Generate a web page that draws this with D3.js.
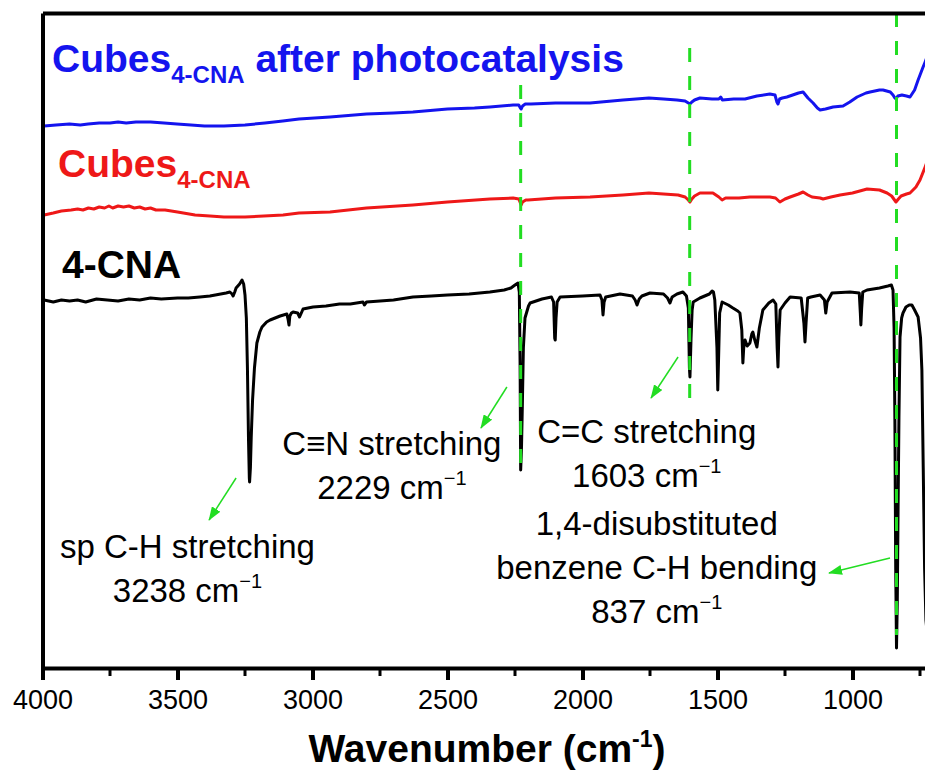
<!DOCTYPE html>
<html>
<head>
<meta charset="utf-8">
<script src="https://cdn.jsdelivr.net/npm/d3@7"></script>
<style>
body { margin: 0; background: #fff; }
text { font-family: "Liberation Sans", Arial, sans-serif; }
</style>
</head>
<body>
<div id="chart"></div>
<script>
(function() {

// FTIR spectra: [wavenumber (cm-1), offset transmittance (a.u.)]
var black = [[3994,368],[3960,366],[3930,368],[3900,367],[3870,368],[3840,366],[3800,369],[3760,368],[3720,367],[3680,369],[3640,368],[3600,370],[3560,369],[3500,370],[3460,370],[3417,371],[3380,372],[3340,374],[3320,375],[3306,376],[3298,374],[3294,372],[3288,376],[3283,380],[3270,384],[3261,388],[3255,384],[3250,373],[3245,350],[3241,300],[3237,228],[3234,190],[3233,186],[3230,200],[3227,230],[3222,268],[3215,300],[3206,325],[3195,336],[3187,341],[3170,346],[3157,348],[3120,352],[3095,354],[3090,348],[3087,343],[3084,352],[3078,355],[3072,356],[3055,355],[3048,351],[3043,354],[3035,359],[2998,361],[2950,362],[2900,364],[2860,364],[2813,366],[2808,363],[2800,366],[2700,368],[2628,371],[2560,372],[2500,373],[2420,374],[2343,376],[2290,378],[2265,380],[2250,383],[2239,385],[2234,376],[2231,300],[2229,198],[2226,220],[2223,260],[2219,320],[2213,350],[2200,362],[2194,365],[2150,369],[2115,371],[2107,366],[2103,330],[2101,328],[2098,350],[2094,366],[2083,371],[2000,372],[1935,373],[1928,368],[1924,353],[1920,366],[1914,371],[1861,374],[1815,372],[1805,368],[1798,363],[1790,369],[1780,372],[1750,375],[1700,374],[1685,370],[1676,365],[1668,371],[1650,374],[1628,376],[1615,372],[1608,360],[1604,300],[1602,291],[1598,330],[1594,358],[1590,366],[1565,370],[1530,374],[1520,377],[1515,376],[1510,368],[1502,320],[1499,278],[1496,310],[1492,355],[1483,366],[1460,363],[1443,360],[1425,357],[1417,355],[1410,338],[1406,305],[1403,320],[1398,328],[1390,322],[1380,325],[1373,334],[1369,336],[1362,328],[1354,321],[1345,340],[1332,358],[1310,365],[1294,368],[1284,364],[1279,320],[1276,301],[1273,330],[1268,358],[1250,365],[1231,371],[1190,370],[1180,345],[1176,326],[1172,345],[1166,370],[1154,371],[1120,373],[1104,368],[1099,355],[1094,366],[1076,375],[1009,376],[975,375],[971,355],[969,343],[966,360],[962,376],[946,378],[900,380],[869,382],[856,383],[850,378],[846,340],[843,248],[840,100],[837,20],[834,68],[831,165],[828,250],[824,331],[818,350],[813,355],[802,361],[790,363],[780,363],[770,358],[757,351],[748,330],[743,298],[738,200],[733,100],[728,48],[720,25],[700,60]];

var red = [[3994,453],[3960,455],[3930,457],[3894,458],[3870,459],[3850,458],[3830,460],[3810,459],[3790,461],[3770,460],[3754,462],[3740,460],[3720,462],[3700,461],[3680,462],[3660,460],[3640,461],[3620,459],[3600,460],[3580,458],[3546,458],[3500,456],[3435,453],[3380,452],[3328,451],[3250,451],[3180,452],[3109,453],[3050,455],[2935,456],[2800,460],[2628,463],[2500,466],[2343,469],[2257,470],[2236,469],[2230,465],[2227,463],[2222,466],[2210,468],[2202,468],[2100,470],[1972,471],[1850,473],[1754,475],[1700,474],[1646,473],[1620,471],[1608,468],[1602,466],[1595,469],[1585,472],[1565,475],[1517,475],[1495,471],[1483,468],[1470,470],[1420,470],[1380,471],[1306,471],[1285,470],[1269,466],[1250,469],[1231,471],[1200,474],[1183,476],[1165,473],[1150,471],[1120,470],[1109,469],[1080,471],[1046,473],[1000,475],[946,479],[900,478],[872,475],[855,472],[839,466],[830,469],[820,472],[800,474],[787,475],[765,481],[750,488],[731,501],[700,523]];

var blue = [[3994,542],[3950,543],[3900,544],[3860,543],[3831,544],[3790,545],[3750,545],[3720,546],[3690,545],[3654,546],[3600,546],[3550,545],[3502,544],[3450,543],[3400,542],[3328,542],[3250,543],[3176,545],[3110,547],[3050,549],[2935,551],[2800,554],[2700,555],[2628,556],[2500,559],[2400,560],[2343,561],[2257,563],[2236,563],[2230,560],[2227,559],[2222,562],[2212,564],[2191,564],[2100,565],[1972,565],[1850,568],[1754,570],[1700,569],[1650,568],[1620,567],[1608,565],[1602,564],[1595,566],[1585,568],[1565,570],[1520,569],[1495,569],[1488,571],[1482,568],[1440,569],[1398,569],[1354,572],[1306,574],[1287,573],[1280,566],[1276,564],[1270,569],[1260,570],[1243,571],[1200,575],[1183,576],[1165,570],[1146,565],[1130,560],[1120,558],[1100,559],[1072,561],[1035,562],[1010,566],[983,571],[950,575],[935,576],[900,578],[887,578],[860,576],[850,573],[843,570],[839,569],[832,572],[817,573],[800,572],[787,571],[770,578],[757,588],[740,600],[731,606],[700,628]];

// marked bands and the extent of their dashed guides (a.u.)
var guideWn = [2229, 1603, 837];
var guideTop = [583, 620, 655];
var guideBottom = [196, 268, 33];

// tick labels
var majorTicks = [4000, 3500, 3000, 2500, 2000, 1500, 1000];
var minorTicks = [3750, 3250, 2750, 2250, 1750, 1250, 750];

var width = 925, height = 781;
var margin = {top: 13, left: 42.5, bottom: 113};

var svg = d3.select("#chart").append("svg")
  .attr("width", width)
  .attr("height", height);

// x runs past the right edge of the picture, as in the original crop
var x = d3.scaleLinear().domain([4000, 400]).range([margin.left, margin.left + 3600 * 0.27]);
var y = d3.scaleLinear().domain([0, 655]).range([height - margin.bottom, margin.top]);

var defs = svg.append("defs");
defs.append("clipPath").attr("id", "plotclip")
  .append("rect")
  .attr("x", margin.left + 1).attr("y", margin.top)
  .attr("width", width).attr("height", y(0) - margin.top);

defs.append("marker")
  .attr("id", "arrow")
  .attr("markerUnits", "userSpaceOnUse")
  .attr("markerWidth", 14).attr("markerHeight", 10)
  .attr("refX", 13).attr("refY", 5)
  .attr("orient", "auto")
  .append("path")
  .attr("d", "M0,0 L14,5 L0,10 Z")
  .attr("fill", "#22dd22");

var line = d3.line()
  .x(function(d) { return x(d[0]); })
  .y(function(d) { return y(d[1]); });

var plot = svg.append("g").attr("clip-path", "url(#plotclip)");

[[black, "#000000"], [red, "#ee1818"], [blue, "#1414ee"]].forEach(function(s) {
  plot.append("path")
    .datum(s[0])
    .attr("fill", "none")
    .attr("stroke", s[1])
    .attr("stroke-width", 3)
    .attr("stroke-linejoin", "round")
    .attr("d", line);
});

// green dashed guides on top of the spectra
plot.selectAll(".guide")
  .data(guideWn)
  .enter().append("line")
  .attr("class", "guide")
  .attr("x1", function(d) { return x(d); })
  .attr("x2", function(d) { return x(d); })
  .attr("y1", function(d, i) { return y(guideTop[i]); })
  .attr("y2", function(d, i) { return y(guideBottom[i]); })
  .attr("stroke", "#22dd22")
  .attr("stroke-width", 3)
  .attr("stroke-dasharray", "14,14");

// axes: bottom with ticks, left and top as plain frame lines
var xAxis = svg.append("g")
  .attr("transform", "translate(0," + y(0) + ")")
  .call(d3.axisBottom(x).tickValues(majorTicks).tickSize(12).tickSizeOuter(0).tickPadding(10).tickFormat(d3.format("d")));
xAxis.select(".domain").attr("stroke-width", 4);
xAxis.selectAll(".tick line").attr("stroke-width", 4);
xAxis.selectAll(".tick text").attr("font-size", 27).attr("font-family", "Liberation Sans, Arial, sans-serif");

svg.append("g")
  .attr("transform", "translate(0," + y(0) + ")")
  .selectAll("line")
  .data(minorTicks)
  .enter().append("line")
  .attr("x1", function(d) { return x(d); })
  .attr("x2", function(d) { return x(d); })
  .attr("y1", 0).attr("y2", 8)
  .attr("stroke", "#000").attr("stroke-width", 3);

var yAxis = svg.append("g")
  .attr("transform", "translate(" + margin.left + ",0)")
  .call(d3.axisLeft(y).tickValues([]).tickSizeOuter(0));
yAxis.select(".domain").attr("stroke-width", 4);

var topAxis = svg.append("g")
  .attr("transform", "translate(0," + margin.top + ")")
  .call(d3.axisTop(x).tickValues([]).tickSizeOuter(0));
topAxis.select(".domain").attr("stroke-width", 4);

// axis title
var title = svg.append("text")
  .attr("x", 487).attr("y", 762)
  .attr("text-anchor", "middle")
  .attr("font-size", 39).attr("font-weight", "bold");
title.append("tspan").text("Wavenumber (cm");
title.append("tspan").attr("font-size", 23).attr("dy", -15).text("-1");
title.append("tspan").attr("dy", 15).text(")");

// series labels
function seriesLabel(px, py, color, main, sub, rest) {
  var t = svg.append("text")
    .attr("x", px).attr("y", py)
    .attr("fill", color)
    .attr("font-size", 39).attr("font-weight", "bold");
  t.append("tspan").text(main);
  if (sub) {
    t.append("tspan").attr("font-size", 24).attr("dy", 11).text(sub);
    if (rest) t.append("tspan").attr("dy", -11).text(rest);
  }
}
seriesLabel(52, 72, "#1414ee", "Cubes", "4-CNA", " after photocatalysis");
seriesLabel(58, 177, "#ee1818", "Cubes", "4-CNA", null);
seriesLabel(62, 278, "#000000", "4-CNA", null, null);

// band annotations: [center wavenumber, baseline (a.u.), lines]
var notes = [
  [3463, 110, ["sp C-H stretching", "3238"]],
  [2706, 213, ["C\u2261N stretching", "2229"]],
  [1762, 225, ["C=C stretching", "1603"]],
  [1725, 133, ["1,4-disubstituted", "benzene C-H bending", "837"]]
];
notes.forEach(function(n) {
  n[2].forEach(function(s, i) {
    var t = svg.append("text")
      .attr("x", x(n[0]))
      .attr("y", y(n[1]) + i * 44)
      .attr("text-anchor", "middle")
      .attr("font-size", 33)
      .attr("fill", "#000");
    if (i === n[2].length - 1) {
      t.append("tspan").text(s + " cm");
      t.append("tspan").attr("font-size", 20).attr("dy", -14).text("\u22121");
    } else {
      t.text(s);
    }
  });
});

// arrows: [from wn, from a.u., to wn, to a.u.]
var arrows = [
  [3283, 190, 3383, 148],
  [2280, 281, 2376, 240],
  [1646, 311, 1746, 270],
  [861, 110, 1087, 95]
];
svg.selectAll(".arrow")
  .data(arrows)
  .enter().append("line")
  .attr("class", "arrow")
  .attr("x1", function(d) { return x(d[0]); })
  .attr("y1", function(d) { return y(d[1]); })
  .attr("x2", function(d) { return x(d[2]); })
  .attr("y2", function(d) { return y(d[3]); })
  .attr("stroke", "#22dd22")
  .attr("stroke-width", 1.5)
  .attr("marker-end", "url(#arrow)");

})();
</script>
</body>
</html>
